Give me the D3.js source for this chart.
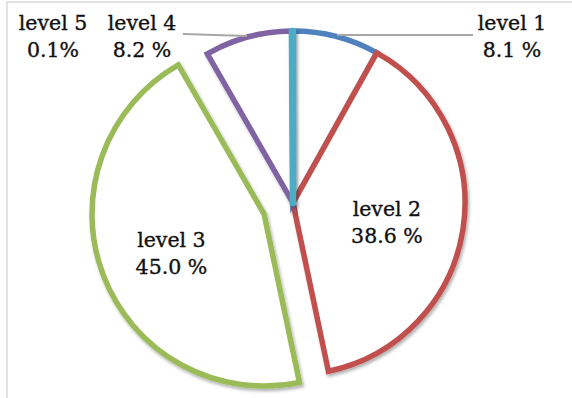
<!DOCTYPE html>
<html>
<head>
<meta charset="utf-8">
<script src="https://cdn.jsdelivr.net/npm/d3@7"></script>
<style>
  html, body { margin: 0; padding: 0; background: #fff; }
  svg { display: block; }
  .lbl { font-family: "DejaVu Serif", serif; font-size: 20.5px; fill: #111; stroke: #111; stroke-width: 0.35px; }
</style>
</head>
<body>
<div id="chart"></div>
<script>
// data
const categories = ['level 1', 'level 2', 'level 3', 'level 4', 'level 5'];
const shares = [8.1, 38.6, 45.0, 8.2, 0.1];
const shareLabels = ['8.1 %', '38.6 %', '45.0 %', '8.2 %', '0.1%'];
const colors = ['#4F81BD', '#C0504D', '#9BBB59', '#8064A2', '#4BACC6'];

const width = 572, height = 398;
const cx = 293, cy = 203, radius = 172;

const svg = d3.select('#chart').append('svg')
  .attr('width', width)
  .attr('height', height);

// soft shadow like the office chart (user space region so thin slices are not clipped)
const defs = svg.append('defs');
defs.append('filter')
  .attr('id', 'shadow')
  .attr('filterUnits', 'userSpaceOnUse')
  .attr('x', -300).attr('y', -300)
  .attr('width', 600).attr('height', 600)
  .append('feDropShadow')
  .attr('dx', 1.5).attr('dy', 2.5)
  .attr('stdDeviation', 1.6)
  .attr('flood-color', '#000')
  .attr('flood-opacity', 0.3);

// chart area border (only left and top visible in the crop)
svg.append('path')
  .attr('d', `M7,${height + 5} L7,2 L${width + 5},2`)
  .attr('fill', 'none')
  .attr('stroke', '#D9D9D9')
  .attr('stroke-width', 1.5);

const pie = d3.pie().sort(null).value(d => d.value);
const arcs = pie(categories.map((c, i) => ({ cat: c, value: shares[i], i })));

const arc = d3.arc().innerRadius(0).outerRadius(radius);

// level 3 is pulled out of the pie
const explode = d => (d.data.cat === 'level 3' ? 31 : 0);
const offset = d => {
  const a = (d.startAngle + d.endAngle) / 2;
  const e = explode(d);
  return [Math.sin(a) * e, -Math.cos(a) * e];
};

const g = svg.append('g').attr('transform', `translate(${cx},${cy})`);

// tiny slices show up as a thick rounded stroke
const tiny = d => (d.endAngle - d.startAngle) < 0.02;

g.selectAll('path.slice')
  .data(arcs)
  .enter().append('path')
  .attr('class', 'slice')
  .attr('d', arc)
  .attr('transform', d => `translate(${offset(d)[0]},${offset(d)[1]})`)
  .attr('fill', '#fff')
  .attr('stroke', (d, i) => colors[i])
  .attr('stroke-width', d => tiny(d) ? 6.5 : 5.5)
  .attr('stroke-linejoin', d => tiny(d) ? 'round' : 'miter')
  .attr('filter', 'url(#shadow)');

// leader lines for outside labels
const leaders = [
  { cat: 'level 1', from: [337, 35], to: [473, 35] },
  { cat: 'level 4', from: [183, 34], to: [247, 36] }
];
svg.selectAll('line.leader')
  .data(leaders)
  .enter().append('line')
  .attr('class', 'leader')
  .attr('x1', d => d.from[0]).attr('y1', d => d.from[1])
  .attr('x2', d => d.to[0]).attr('y2', d => d.to[1])
  .attr('stroke', '#A6A6A6')
  .attr('stroke-width', 2);

// label positions: inside ones at the centroid, outside ones above the pie
const labelArc = d3.arc().innerRadius(97).outerRadius(97);
const outsidePos = { 'level 1': [512, 30], 'level 4': [142, 30], 'level 5': [53, 30] };

const labels = svg.selectAll('text.lbl')
  .data(arcs)
  .enter().append('text')
  .attr('class', 'lbl')
  .attr('text-anchor', 'middle')
  .attr('transform', d => {
    if (outsidePos[d.data.cat]) {
      const p = outsidePos[d.data.cat];
      return `translate(${p[0]},${p[1]})`;
    }
    const c = labelArc.centroid(d);
    const o = offset(d);
    return `translate(${cx + c[0] + o[0] - 2},${cy + c[1] + o[1] - 2})`;
  });

labels.append('tspan')
  .attr('x', 0).attr('y', 0)
  .text(d => d.data.cat);
labels.append('tspan')
  .attr('x', 0).attr('y', 27)
  .text(d => shareLabels[d.data.i]);
</script>
</body>
</html>
